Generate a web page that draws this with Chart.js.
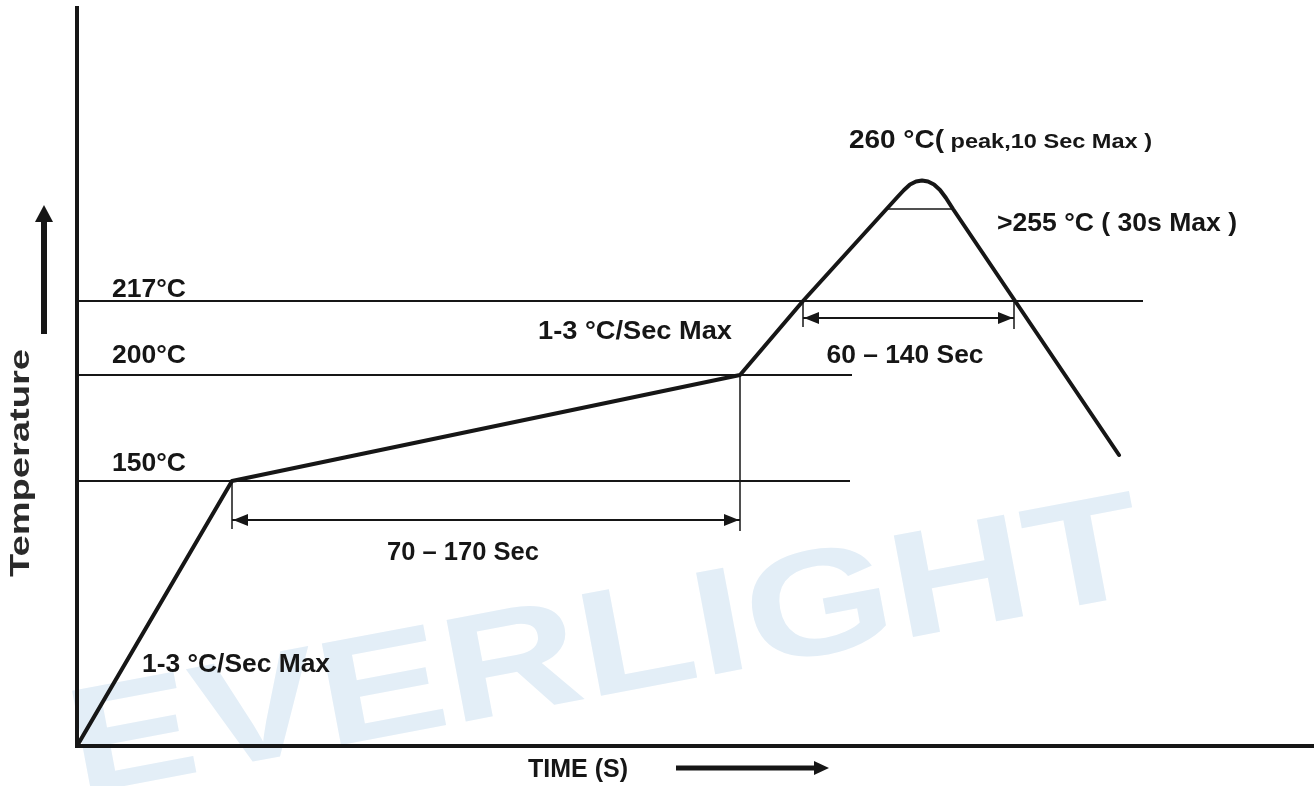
<!DOCTYPE html>
<html>
<head>
<meta charset="utf-8">
<script src="https://cdn.jsdelivr.net/npm/chart.js@4.4.1/dist/chart.umd.min.js"></script>
<style>
  html, body { margin: 0; padding: 0; background: #fff; }
  canvas { display: block; }
</style>
</head>
<body>
<canvas id="reflow-chart" width="1314" height="786"></canvas>
<script>
// schematic units (the drawing is not to scale): x = time, y = temperature
const profileTime = [0, 155, 663, 726, 820, 827, 833, 839, 845, 851, 857, 863, 869, 876, 1042];
const profileTemp = [0, 265, 371, 445, 548.5, 556, 561.5, 564.5, 565.5, 564.5, 561.5, 556, 548, 537, 291];

const levelLabels = ['217°C', '200°C', '150°C'];
const levelTemp = [445, 371, 265];
const levelEnd = [1066, 775, 773];

const peakBandFrom = 808;
const peakBandTo = 876;
const peakBandTemp = 537;

const spanLabels = ['70 – 170 Sec', '60 – 140 Sec'];
const spanFrom = [155, 726];
const spanTo = [663, 937];
const spanTemp = [226, 428];
const spanFromTop = [265, 445];
const spanToTop = [371, 445];

const INK = '#161616';

function seg(x1, y1, x2, y2, width) {
  return {
    data: [{ x: x1, y: y1 }, { x: x2, y: y2 }],
    borderColor: INK,
    borderWidth: width,
    borderCapStyle: 'butt'
  }
}

const datasets = []
datasets.push({
  label: 'profile',
  data: profileTime.map((t, i) => ({ x: t, y: profileTemp[i] })),
  borderColor: INK,
  borderWidth: 4,
  borderJoinStyle: 'round',
  borderCapStyle: 'round'
})
levelTemp.forEach((lv, i) => datasets.push(seg(0, lv, levelEnd[i], lv, 2)))
datasets.push(seg(peakBandFrom, peakBandTemp, peakBandTo, peakBandTemp, 1.5))
spanFrom.forEach((x0, i) => {
  const x1 = spanTo[i]
  const y = spanTemp[i]
  datasets.push(seg(x0, y, x1, y, 2))
  datasets.push(seg(x0, spanFromTop[i], x0, y - 9, 1.5))
  datasets.push(seg(x1, spanToTop[i], x1, y - 11, 1.5))
})

// text placement (pixels)
const labels = [
  { text: levelLabels[0], x: 112, y: 290, w: 74 },
  { text: levelLabels[1], x: 112, y: 356, w: 74 },
  { text: levelLabels[2], x: 112, y: 464, w: 74 },
  { text: '1-3 °C/Sec Max', x: 538, y: 332, w: 194 },
  { text: '1-3 °C/Sec Max', x: 142, y: 665, w: 188 },
  { text: spanLabels[0], x: 463, y: 553, w: 152, align: 'center' },
  { text: spanLabels[1], x: 905, y: 356, w: 157, align: 'center' },
  { text: '>255 °C ( 30s Max )', x: 997, y: 224, w: 240 },
  { text: 'TIME (S)', x: 528, y: 770 }
]

function arrowHead(ctx, x, y, dir, len, half) {
  ctx.beginPath()
  ctx.moveTo(x, y)
  if (dir === 'left') { ctx.lineTo(x + len, y - half); ctx.lineTo(x + len, y + half) }
  if (dir === 'right') { ctx.lineTo(x - len, y - half); ctx.lineTo(x - len, y + half) }
  if (dir === 'up') { ctx.lineTo(x - half, y + len); ctx.lineTo(x + half, y + len) }
  ctx.closePath()
  ctx.fill()
}

// draw text squeezed/stretched to a given width
function fitText(ctx, text, left, y, width) {
  const natural = ctx.measureText(text).width
  ctx.save()
  ctx.translate(left, y)
  ctx.scale(width ? width / natural : 1, 1)
  ctx.fillText(text, 0, 0)
  ctx.restore()
}

const decor = {
  id: 'decor',
  beforeDatasetsDraw(chart) {
    const ctx = chart.ctx
    ctx.save()
    ctx.translate(1150, 592)
    ctx.rotate(-10.7 * Math.PI / 180)
    ctx.scale(1.27, 1)
    ctx.font = 'bold 150px "Liberation Sans", Arial, sans-serif'
    ctx.textAlign = 'right'
    ctx.textBaseline = 'alphabetic'
    ctx.fillStyle = '#e3eef7'
    ctx.fillText('EVERLIGHT', 0, 0)
    ctx.restore()
  },
  afterDatasetsDraw(chart) {
    const ctx = chart.ctx
    const area = chart.chartArea
    const xs = chart.scales.x
    const ys = chart.scales.y
    ctx.save()
    ctx.fillStyle = INK
    ctx.strokeStyle = INK

    // axes
    ctx.lineWidth = 4
    ctx.lineCap = 'square'
    ctx.beginPath()
    ctx.moveTo(area.left, area.top)
    ctx.lineTo(area.left, area.bottom)
    ctx.lineTo(area.right, area.bottom)
    ctx.stroke()

    // dimension arrow heads
    spanFrom.forEach((x0, i) => {
      const y = ys.getPixelForValue(spanTemp[i])
      arrowHead(ctx, xs.getPixelForValue(x0) + 1, y, 'left', 15, 6)
      arrowHead(ctx, xs.getPixelForValue(spanTo[i]) - 1, y, 'right', 15, 6)
    })

    // axis direction arrows
    ctx.lineCap = 'butt'
    ctx.lineWidth = 6
    const ax = area.left - 33
    ctx.beginPath()
    ctx.moveTo(ax, 334)
    ctx.lineTo(ax, 218)
    ctx.stroke()
    arrowHead(ctx, ax, 205, 'up', 17, 9)
    ctx.lineWidth = 5
    ctx.beginPath()
    ctx.moveTo(676, 768)
    ctx.lineTo(816, 768)
    ctx.stroke()
    arrowHead(ctx, 829, 768, 'right', 15, 7)

    // labels
    ctx.textBaseline = 'middle'
    ctx.textAlign = 'left'
    ctx.font = 'bold 25px "Liberation Sans", Arial, sans-serif'
    labels.forEach(l => {
      const w = l.w || ctx.measureText(l.text).width
      const left = l.align === 'center' ? l.x - w / 2 : l.x
      fitText(ctx, l.text, left, l.y, l.w)
    })

    // peak label, two sizes
    ctx.textBaseline = 'alphabetic'
    ctx.font = 'bold 25px "Liberation Sans", Arial, sans-serif'
    fitText(ctx, '260 °C(', 849, 148, 95)
    ctx.font = 'bold 21px "Liberation Sans", Arial, sans-serif'
    fitText(ctx, ' peak,10 Sec Max )', 944, 148, 208)

    // vertical axis title
    ctx.save()
    ctx.translate(21, 463)
    ctx.rotate(-Math.PI / 2)
    ctx.font = 'bold 28px "Liberation Sans", Arial, sans-serif'
    ctx.fillStyle = '#2a2a2a'
    const tw = ctx.measureText('Temperature').width
    ctx.scale(228 / tw, 1)
    ctx.textAlign = 'center'
    ctx.textBaseline = 'middle'
    ctx.fillText('Temperature', 0, 0)
    ctx.restore()

    ctx.restore()
  }
}

const chartConfig = {
  type: 'line',
  data: { datasets: datasets },
  options: {
    responsive: false,
    animation: false,
    devicePixelRatio: 1,
    layout: {
      padding: { left: 77, top: 8, right: 2, bottom: 40 }
    },
    elements: {
      point: { radius: 0, hoverRadius: 0 },
      line: { tension: 0, fill: false }
    },
    scales: {
      x: { type: 'linear', display: false, min: 0, max: 1235 },
      y: { type: 'linear', display: false, min: 0, max: 738 }
    },
    plugins: {
      legend: { display: false },
      tooltip: { enabled: false }
    }
  },
  plugins: [decor]
}

const chartElement = document.getElementById('reflow-chart').getContext('2d')
const reflowChart = new Chart(chartElement, chartConfig)
</script>
</body>
</html>
